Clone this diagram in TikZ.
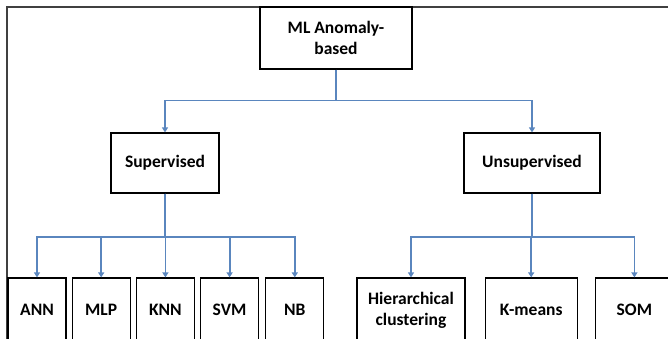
\documentclass[tikz,border=0pt]{standalone}
\usepackage{fontspec}
\setmainfont{Carlito}
\usepackage{xcolor}
\usetikzlibrary{positioning,arrows.meta}

\definecolor{linkblue}{HTML}{5A86BE}
\definecolor{framegray}{HTML}{404040}

\begin{document}
\begin{tikzpicture}[
			x=1pt, y=1pt,
			box/.style={
				draw, rectangle, align=center, line width=1.2pt, fill=white,
				font=\bfseries\fontsize{17.5}{21}\selectfont,
				inner sep=2pt
			},
			leafbox/.style={
				box, minimum height=64, text width=#1-4, minimum width=#1
			},
			arr/.style={-{Triangle[width=6pt,length=5pt]}, draw=linkblue, line width=1.8pt},
			frame/.style={draw=framegray, line width=1.8pt}
			]
			\useasboundingbox (0,0) rectangle (668,-339);
			\clip (0,0) rectangle (668,-339);
			
			%==================== 外框 ====================
			\draw[frame] (7,-345) -- (7,-7) -- (675,-7);
			
			%==================== 根节点 ====================
			\node[box, minimum width=152, minimum height=62] (ml) at (336,-38) {ML Anomaly-\\based};
			
			%==================== 第二层 ====================
			\node[box, minimum width=108, minimum height=60] (sup) at (165,-163) {Supervised};
			\node[box, minimum width=136, minimum height=60] (unsup) at (532,-163) {Unsupervised};
			
			%==================== 叶节点(有监督) ====================
			\node[leafbox=58] (ann) at (37,-310) {ANN};
			\node[leafbox=58, right=5 of ann] (mlp) {MLP};
			\node[leafbox=58, right=5 of mlp] (knn) {KNN};
			\node[leafbox=58, right=5 of knn] (svm) {SVM};
			\node[leafbox=58, right=6 of svm] (nb) {NB};
			
			%==================== 叶节点(无监督) ====================
			\node[leafbox=108] (hier) at (411,-310) {Hierarchical clustering};
			\node[leafbox=92, right=19 of hier] (kmeans) {K-means};
			\node[leafbox=78, right=17 of kmeans] (som) {SOM};
			
			%==================== 连线 ====================
			\foreach \n in {sup,unsup}
			\draw[arr] (ml.south) -- ++(0,-31) -| (\n.north);
			\foreach \n in {ann,mlp,knn,svm,nb}
			\draw[arr] (sup.south) -- ++(0,-43) -| (\n.north);
			\foreach \n in {hier,kmeans,som}
			\draw[arr] (unsup.south) -- ++(0,-43) -| (\n.north);
			
		\end{tikzpicture}
\end{document}
